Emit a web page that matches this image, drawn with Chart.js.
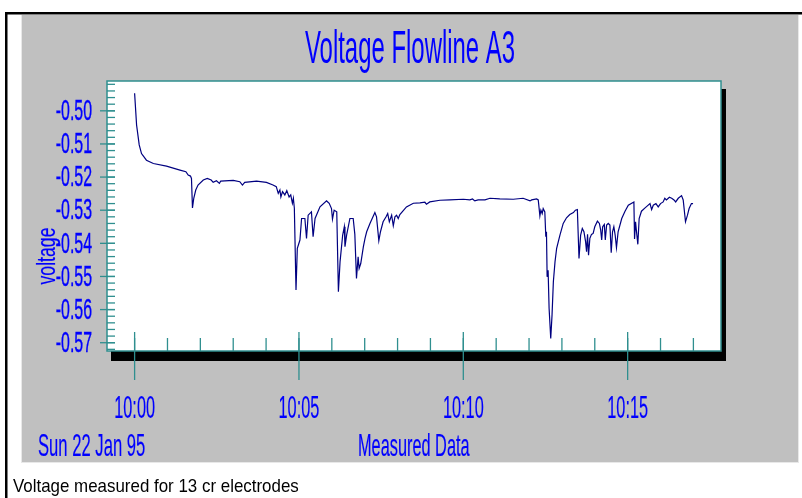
<!DOCTYPE html>
<html><head><meta charset="utf-8">
<script src="https://cdn.jsdelivr.net/npm/chart.js@4.4.1/dist/chart.umd.min.js"></script>
<style>html,body{margin:0;padding:0;background:#fff;overflow:hidden}canvas{display:block}</style>
</head><body>
<canvas id="c" width="802" height="498"></canvas>
<script>
// ---- text ----
const chartTitle = "Voltage Flowline A3";
const yAxisTitle = "voltage";
const xAxisTitle = "Measured Data";
const dateLabel = "Sun 22 Jan 95";
const caption = "Voltage measured for 13 cr electrodes";

// ---- ticks ----
const xTickValues = [0, 5, 10, 15];             // minutes after 10:00
const xTickLabels = ["10:00", "10:05", "10:10", "10:15"];
const yTickValues = [-0.50, -0.51, -0.52, -0.53, -0.54, -0.55, -0.56, -0.57];
const yTickLabels = ["-0.50", "-0.51", "-0.52", "-0.53", "-0.54", "-0.55", "-0.56", "-0.57"];

// ---- series: minutes after 10:00 and measured voltage ----
const minutes = [
  0, 0.06, 0.14, 0.21, 0.36, 0.57, 0.97, 1.38, 1.56, 1.63, 1.70, 1.73, 1.76, 1.80, 1.86, 1.93,
  2.09, 2.21, 2.33, 2.39, 2.49, 2.58, 2.62, 3.00, 3.20, 3.28, 3.35, 3.71, 4.01, 4.21, 4.31, 4.37,
  4.42, 4.45, 4.50, 4.57, 4.63, 4.70, 4.75, 4.80, 4.83, 4.86, 4.91, 4.95,
  5.03, 5.08, 5.18, 5.23, 5.28, 5.38, 5.43, 5.49, 5.64, 5.84, 5.92, 5.99, 6.02, 6.07, 6.15, 6.20,
  6.25, 6.33, 6.38, 6.40, 6.45, 6.55, 6.65, 6.70, 6.75, 6.80, 6.83, 6.88, 6.96, 7.01, 7.06, 7.16,
  7.31, 7.36, 7.43, 7.48, 7.56, 7.65, 7.70, 7.75, 7.82, 7.87, 7.92, 7.97, 8.02, 8.07, 8.27, 8.48,
  8.68, 8.83, 8.88, 8.98, 9.29, 9.59, 10.00, 10.20, 10.28, 10.35, 10.45, 10.66, 10.81, 11.11, 11.52,
  11.82, 12.03, 12.08, 12.23, 12.28, 12.33, 12.36, 12.40, 12.43, 12.48, 12.51, 12.53, 12.55, 12.58,
  12.61, 12.66, 12.70, 12.74, 12.79, 12.84, 12.94, 13.04, 13.14, 13.24, 13.35, 13.41, 13.47, 13.52,
  13.57, 13.62, 13.67, 13.72, 13.75, 13.78, 13.81, 13.85, 13.90, 13.95, 14.00, 14.08, 14.14, 14.18,
  14.21, 14.24, 14.29, 14.32, 14.36, 14.41, 14.46, 14.50, 14.54, 14.58, 14.62, 14.66, 14.71, 14.82,
  14.92, 15.02, 15.19, 15.21, 15.24, 15.27, 15.31, 15.35, 15.42, 15.53, 15.60, 15.68, 15.73, 15.78,
  15.86, 15.93, 16.00, 16.08, 16.13, 16.18, 16.27, 16.34, 16.41, 16.46, 16.54, 16.64, 16.69, 16.76,
  16.82, 16.87, 16.94, 16.99
];
const voltage = [
  -0.4947, -0.5043, -0.5103, -0.5129, -0.5149, -0.5159, -0.5167, -0.5179, -0.5184, -0.5194, -0.5197, -0.5204, -0.5293, -0.5264, -0.5239, -0.5224,
  -0.5209, -0.5204, -0.5209, -0.5216, -0.5211, -0.5219, -0.5212, -0.5210, -0.5214, -0.5224, -0.5216, -0.5212, -0.5216, -0.5224, -0.5229, -0.5249,
  -0.5239, -0.5260, -0.5244, -0.5254, -0.5241, -0.5260, -0.5254, -0.5279, -0.5264, -0.5294, -0.5541, -0.5415,
  -0.5390, -0.5325, -0.5325, -0.5385, -0.5315, -0.5305, -0.5380, -0.5325, -0.5290, -0.5272, -0.5279, -0.5295, -0.5327, -0.5300, -0.5305, -0.5546,
  -0.5456, -0.5375, -0.5350, -0.5410, -0.5375, -0.5325, -0.5325, -0.5373, -0.5506, -0.5441, -0.5476, -0.5461, -0.5410, -0.5385, -0.5365, -0.5340,
  -0.5307, -0.5320, -0.5392, -0.5365, -0.5335, -0.5320, -0.5310, -0.5335, -0.5315, -0.5347, -0.5320, -0.5315, -0.5325, -0.5313, -0.5290, -0.5279,
  -0.5278, -0.5276, -0.5282, -0.5275, -0.5270, -0.5269, -0.5267, -0.5269, -0.5266, -0.5272, -0.5269, -0.5269, -0.5264, -0.5266, -0.5267,
  -0.5264, -0.5272, -0.5269, -0.5266, -0.5269, -0.5317, -0.5300, -0.5310, -0.5295, -0.5305, -0.5380, -0.5365, -0.5501, -0.5481,
  -0.5596, -0.5687, -0.5616, -0.5516, -0.5456, -0.5415, -0.5375, -0.5340, -0.5323, -0.5313, -0.5307, -0.5300, -0.5298, -0.5446,
  -0.5375, -0.5355, -0.5365, -0.5395, -0.5425, -0.5373, -0.5436, -0.5385, -0.5373, -0.5370, -0.5350, -0.5333, -0.5340, -0.5360,
  -0.5390, -0.5350, -0.5343, -0.5390, -0.5345, -0.5340, -0.5345, -0.5428, -0.5365, -0.5350, -0.5375, -0.5413, -0.5365, -0.5325,
  -0.5303, -0.5285, -0.5275, -0.5387, -0.5335, -0.5365, -0.5403, -0.5325, -0.5303, -0.5293, -0.5287, -0.5280, -0.5298, -0.5285,
  -0.5280, -0.5290, -0.5280, -0.5275, -0.5264, -0.5269, -0.5261, -0.5264, -0.5269, -0.5275, -0.5264, -0.5256, -0.5269, -0.5335,
  -0.5315, -0.5295, -0.5280, -0.5280
];

const X_MIN = -0.84, X_MAX = 17.84, Y_MIN = -0.5725, Y_MAX = -0.491;
const Y_MINOR_STEP = 0.002, X_MINOR_STEP = 1;

const BLUE = '#0000ff', TEAL = '#2f8f8f', GREY = '#c0c0c0';
const FONT = '"Liberation Sans", Arial, sans-serif';

function txt(ctx, s, x, y, size, sx, align, base, color, rot, bold) {
  ctx.save();
  ctx.translate(x, y);
  if (rot) ctx.rotate(rot);
  ctx.scale(sx, 1);
  ctx.font = size + 'px ' + FONT;
  ctx.textAlign = align;
  ctx.textBaseline = base;
  ctx.fillStyle = color;
  ctx.fillText(s, 0, 0);
  if (bold) {
    ctx.strokeStyle = color;
    ctx.lineWidth = bold;
    ctx.strokeText(s, 0, 0);
  }
  ctx.restore();
}
function seg(ctx, x1, y1, x2, y2) {
  ctx.beginPath(); ctx.moveTo(x1, y1); ctx.lineTo(x2, y2); ctx.stroke();
}

const framePlugin = {
  id: 'frame',
  beforeDraw(chart) {
    const ctx = chart.ctx, ca = chart.chartArea;
    ctx.save();
    ctx.fillStyle = '#ffffff';
    ctx.fillRect(0, 0, chart.width, chart.height);
    ctx.fillStyle = '#000000';
    ctx.fillRect(5, 12, chart.width - 5, 2.5);
    ctx.fillRect(5, 12, 2.5, chart.height - 12);
    ctx.fillStyle = '#e8e8e8';
    ctx.fillRect(21, 15, 778, 448);
    ctx.fillStyle = GREY;
    ctx.fillRect(22, 15, 776, 447);
    ctx.fillStyle = '#000000';
    ctx.fillRect(ca.left + 4, ca.top + 8, ca.right - ca.left + 1, ca.bottom - ca.top + 2);
    ctx.fillStyle = '#ffffff';
    ctx.fillRect(ca.left, ca.top, ca.right - ca.left, ca.bottom - ca.top);
    ctx.restore();
  },
  afterDraw(chart) {
    const ctx = chart.ctx, ca = chart.chartArea;
    const xs = chart.scales.x, ys = chart.scales.y;
    ctx.save();
    ctx.strokeStyle = TEAL;
    ctx.lineWidth = 1.5;
    ctx.strokeRect(ca.left, ca.top, ca.right - ca.left, ca.bottom - ca.top);
    ctx.lineWidth = 1.3;
    for (let v = Y_MIN + 0.0005; v <= Y_MAX + 1e-9; v += Y_MINOR_STEP) {
      const py = ys.getPixelForValue(v);
      seg(ctx, ca.left, py, ca.left + 8, py);
    }
    yTickValues.forEach(v => {
      const py = ys.getPixelForValue(v);
      seg(ctx, ca.left - 7, py, ca.left + 8, py);
    });
    for (let t = 0; t <= X_MAX; t += X_MINOR_STEP) {
      const px = xs.getPixelForValue(t);
      seg(ctx, px, ca.bottom, px, ca.bottom - 13);
    }
    xTickValues.forEach(t => {
      const px = xs.getPixelForValue(t);
      seg(ctx, px, ca.bottom - 19, px, ca.bottom + 29);
    });
    yTickValues.forEach((v, i) => {
      txt(ctx, yTickLabels[i], 92, ys.getPixelForValue(v) + 1, 30, 0.53, 'right', 'middle', BLUE, 0, 0.4);
    });
    xTickValues.forEach((t, i) => {
      txt(ctx, xTickLabels[i], xs.getPixelForValue(t), 418, 32, 0.51, 'center', 'alphabetic', BLUE, 0, 0.2);
    });
    txt(ctx, chartTitle, 410, 63, 46, 0.52, 'center', 'alphabetic', BLUE, 0, 0);
    txt(ctx, dateLabel, 38, 456, 32, 0.52, 'left', 'alphabetic', BLUE, 0, 0.2);
    txt(ctx, xAxisTitle, 358, 456, 32, 0.51, 'left', 'alphabetic', BLUE, 0, 0.2);
    txt(ctx, yAxisTitle, 55, 256, 26, 0.68, 'center', 'alphabetic', BLUE, -Math.PI / 2, 0.2);
    txt(ctx, caption, 13, 492, 19, 0.89, 'left', 'alphabetic', '#000000');
    ctx.restore();
  }
};

const hiddenAxis = {
  display: true,
  grid: { display: false, drawTicks: false },
  border: { display: false },
  ticks: { display: false },
  title: { display: false }
};

new Chart(document.getElementById('c').getContext('2d'), {
  type: 'line',
  data: {
    datasets: [{
      data: minutes.map((m, i) => ({ x: m, y: voltage[i] })),
      borderColor: '#000080',
      borderWidth: 1.2,
      pointRadius: 0,
      tension: 0,
      fill: false
    }]
  },
  options: {
    responsive: false,
    animation: false,
    devicePixelRatio: 1,
    layout: { autoPadding: false, padding: { left: 107, top: 81, right: 81, bottom: 147 } },
    plugins: { legend: { display: false }, tooltip: { enabled: false }, title: { display: false } },
    scales: {
      x: Object.assign({ type: 'linear', min: X_MIN, max: X_MAX }, hiddenAxis),
      y: Object.assign({ type: 'linear', min: Y_MIN, max: Y_MAX }, hiddenAxis)
    }
  },
  plugins: [framePlugin]
});
</script>
</body></html>
